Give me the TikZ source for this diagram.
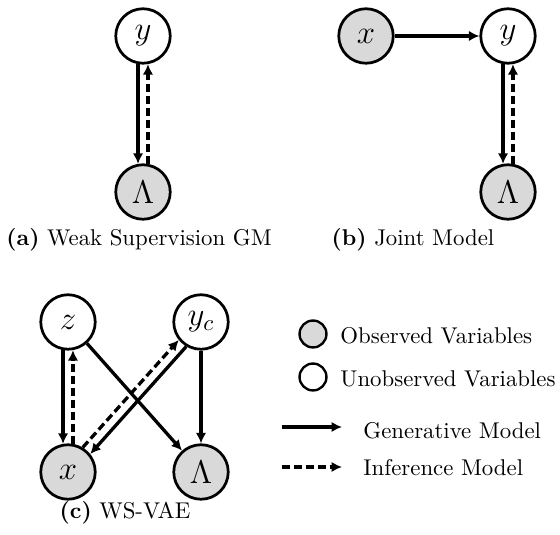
\documentclass[tikz,border=0pt]{standalone}
\usetikzlibrary{arrows.meta}
\definecolor{obsgray}{RGB}{217,217,217}
\begin{document}
\begin{tikzpicture}[x=0.4386pt,y=-0.4386pt,
  var/.style={circle,draw,line width=1.2pt,minimum size=23.9pt,inner sep=0pt,font=\Large},
  obs/.style={var,fill=obsgray},
  legcirc/.style={circle,draw,line width=1.05pt,minimum size=11.8pt,inner sep=0pt},
  gen/.style={line width=1.45pt,-{Latex[length=4.6pt,width=4.6pt]}},
  inf/.style={gen,dash pattern=on 3.5pt off 1.75pt},
  captext/.style={font=\normalsize},
  legtext/.style={anchor=west,inner sep=0pt}]
\useasboundingbox (0,0) rectangle (560,535);
% (a)
\node[var] (ay) at (143,36) {$y$};
\node[obs] (aL) at (143,192) {$\Lambda$};
\draw[gen] (ay.260) -- (aL.100);
\draw[inf] (aL.80) -- (ay.280);
\node[captext] (capa) at (139,240) {\textbf{(a)} Weak Supervision GM};
% (b)
\node[obs] (bx) at (366,36) {$x$};
\node[var] (by) at (508,36) {$y$};
\node[obs] (bL) at (508,192) {$\Lambda$};
\draw[gen] (bx) -- (by);
\draw[gen] (by.260) -- (bL.100);
\draw[inf] (bL.80) -- (by.280);
\node[captext] (capb) at (413,240) {\textbf{(b)} Joint Model};
% (c)
\node[var] (cz) at (68,322) {$z$};
\node[var] (cy) at (201,322) {$y_c$};
\node[obs] (cx) at (68,472) {$x$};
\node[obs] (cL) at (201,472) {$\Lambda$};
\draw[gen] (cz.260) -- (cx.100);
\draw[inf] (cx.80) -- (cz.280);
\draw[inf] (cx.59) -- (cy.219);
\draw[gen] (cy.239) -- (cx.39);
\draw[gen] (cz) -- (cL);
\draw[gen] (cy) -- (cL);
\node[captext] (capc) at (125,513) {\textbf{(c)} WS-VAE};
% legend
\node[legcirc,fill=obsgray] (lo) at (313,334) {};
\node[legtext] (lot) at (340,336) {Observed Variables};
\node[legcirc] (lu) at (313,377) {};
\node[legtext] (lut) at (340,379) {Unobserved Variables};
\coordinate (g1) at (282,427);
\coordinate (g2) at (342,427);
\draw[gen] (g1) -- (g2);
\node[legtext] (lgt) at (363,431) {Generative Model};
\coordinate (i1) at (282,467);
\coordinate (i2) at (342,467);
\draw[inf] (i1) -- (i2);
\node[legtext] (lit) at (363,468) {Inference Model};
\end{tikzpicture}
\end{document}
